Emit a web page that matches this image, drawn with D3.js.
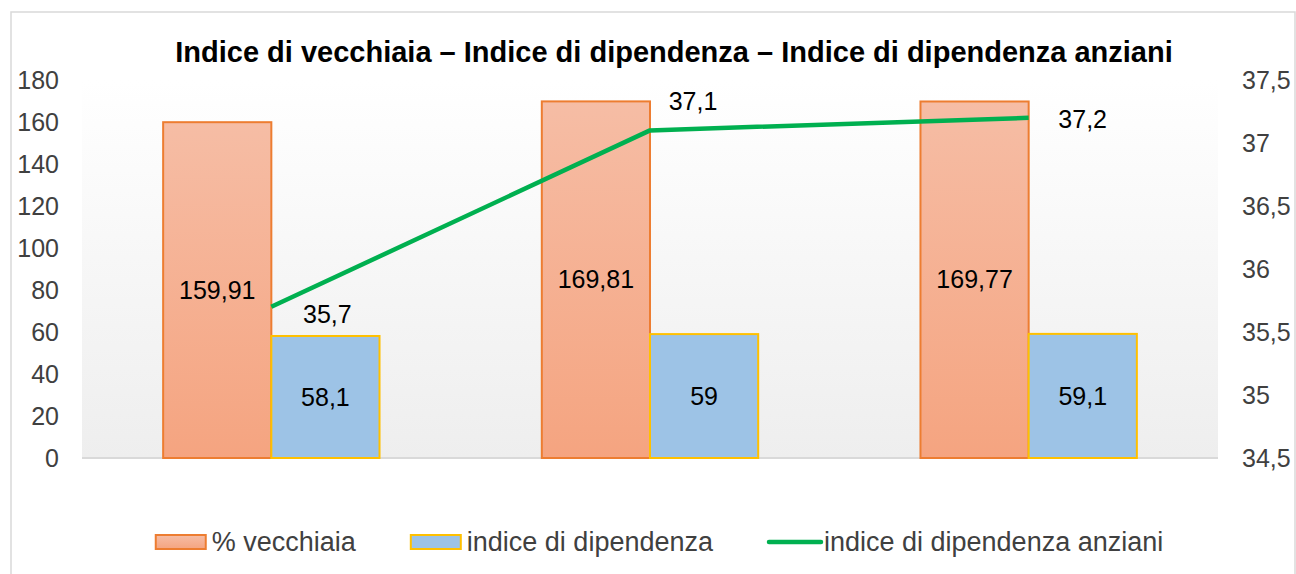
<!DOCTYPE html>
<html>
<head>
<meta charset="utf-8">
<script src="https://cdn.jsdelivr.net/npm/d3@7"></script>
<style>
  body { margin: 0; background: #fff; }
  svg { display: block; font-family: "Liberation Sans", Arial, sans-serif; }
</style>
</head>
<body>
<div id="chart"></div>
<script>
// data
const categories = ["1", "2", "3"];
const vecchiaia = [159.91, 169.81, 169.77];
const dipendenza = [58.1, 59, 59.1];
const dipAnziani = [35.7, 37.1, 37.2];
const leftTicks = [0, 20, 40, 60, 80, 100, 120, 140, 160, 180];
const rightTicks = [34.5, 35, 35.5, 36, 36.5, 37, 37.5];
const seriesNames = ["% vecchiaia", "indice di dipendenza", "indice di dipendenza anziani"];

const W = 1296, H = 574;
const plot = {left: 82, right: 1218, top: 80, bottom: 458};
const fmt = v => String(v).replace(".", ",");
// nudges for the line labels (moved by hand in the original)
const lineLabelNudge = [[56, 7], [43, -29], [54, 1]];

const svg = d3.select("#chart").append("svg")
    .attr("width", W)
    .attr("height", H);

const defs = svg.append("defs");
const bgGrad = defs.append("linearGradient").attr("id", "bg").attr("x1", 0).attr("y1", 0).attr("x2", 0).attr("y2", 1);
bgGrad.append("stop").attr("offset", "0%").attr("stop-color", "#ffffff");
bgGrad.append("stop").attr("offset", "100%").attr("stop-color", "#eeeeee");
const orGrad = defs.append("linearGradient").attr("id", "orange").attr("x1", 0).attr("y1", 0).attr("x2", 0).attr("y2", 1);
orGrad.append("stop").attr("offset", "0%").attr("stop-color", "#f6bda5");
orGrad.append("stop").attr("offset", "100%").attr("stop-color", "#f5a480");

// outer chart border
svg.append("rect")
    .attr("x", 11).attr("y", 12)
    .attr("width", 1284).attr("height", 600)
    .attr("fill", "none")
    .attr("stroke", "#d9d9d9")
    .attr("stroke-width", 1.5);

// plot area background
svg.append("rect")
    .attr("x", plot.left).attr("y", plot.top)
    .attr("width", plot.right - plot.left)
    .attr("height", plot.bottom - plot.top)
    .attr("fill", "url(#bg)");

var x = d3.scaleBand()
        .domain(categories)
        .range([plot.left, plot.right]);

var x1 = d3.scaleBand()
        .domain(["v", "d"])
        .range([0, x.bandwidth()])
        .paddingOuter(0.75);

var yL = d3.scaleLinear().domain([0, 180]).range([plot.bottom, plot.top]);
var yR = d3.scaleLinear().domain([34.5, 37.5]).range([plot.bottom, plot.top]);

// baseline
svg.append("line")
    .attr("x1", plot.left).attr("x2", plot.right)
    .attr("y1", yL(0)).attr("y2", yL(0))
    .attr("stroke", "#d9d9d9")
    .attr("stroke-width", 2);

// left axis labels
svg.append("g").selectAll("text")
    .data(leftTicks).enter().append("text")
    .attr("x", 59)
    .attr("y", d => yL(d))
    .attr("dy", "0.35em")
    .attr("text-anchor", "end")
    .attr("font-size", 25)
    .attr("fill", "#404040")
    .text(d => d);

// right axis labels
svg.append("g").selectAll("text")
    .data(rightTicks).enter().append("text")
    .attr("x", 1242)
    .attr("y", d => yR(d))
    .attr("dy", "0.35em")
    .attr("font-size", 25)
    .attr("fill", "#404040")
    .text(d => fmt(d));

// bars
var bars = svg.append("g");
bars.selectAll(".bv")
    .data(vecchiaia).enter().append("rect")
    .attr("x", (d, i) => x(categories[i]) + x1("v"))
    .attr("y", d => yL(d))
    .attr("width", x1.bandwidth())
    .attr("height", d => yL(0) - yL(d))
    .attr("fill", "url(#orange)")
    .attr("stroke", "#ed7d31")
    .attr("stroke-width", 2);

bars.selectAll(".bd")
    .data(dipendenza).enter().append("rect")
    .attr("x", (d, i) => x(categories[i]) + x1("d"))
    .attr("y", d => yL(d))
    .attr("width", x1.bandwidth())
    .attr("height", d => yL(0) - yL(d))
    .attr("fill", "#9dc3e6")
    .attr("stroke", "#ffc000")
    .attr("stroke-width", 2);

// bar labels
svg.append("g").selectAll("text")
    .data(vecchiaia).enter().append("text")
    .attr("x", (d, i) => x(categories[i]) + x1("v") + x1.bandwidth() / 2)
    .attr("y", d => (yL(d) + yL(0)) / 2)
    .attr("dy", "0.35em")
    .attr("text-anchor", "middle")
    .attr("font-size", 25)
    .text(d => fmt(d));

svg.append("g").selectAll("text")
    .data(dipendenza).enter().append("text")
    .attr("x", (d, i) => x(categories[i]) + x1("d") + x1.bandwidth() / 2)
    .attr("y", d => (yL(d) + yL(0)) / 2)
    .attr("dy", "0.35em")
    .attr("text-anchor", "middle")
    .attr("font-size", 25)
    .text(d => fmt(d));

// line
var lineX = (d, i) => x(categories[i]) + x.bandwidth() / 2;
var line = d3.line()
    .x(lineX)
    .y(d => yR(d));

svg.append("path")
    .datum(dipAnziani)
    .attr("d", line)
    .attr("fill", "none")
    .attr("stroke", "#00b050")
    .attr("stroke-width", 4.5)
    .attr("stroke-linejoin", "round");

svg.append("g").selectAll("text")
    .data(dipAnziani).enter().append("text")
    .attr("x", (d, i) => lineX(d, i) + lineLabelNudge[i][0])
    .attr("y", (d, i) => yR(d) + lineLabelNudge[i][1])
    .attr("dy", "0.35em")
    .attr("text-anchor", "middle")
    .attr("font-size", 25)
    .text(d => fmt(d));

// title
svg.append("text")
    .attr("x", 674)
    .attr("y", 62)
    .attr("text-anchor", "middle")
    .attr("font-size", 29)
    .attr("font-weight", "bold")
    .text("Indice di vecchiaia \u2013 Indice di dipendenza \u2013 Indice di dipendenza anziani");

// legend
var legend = svg.append("g");
var ly = 542;
var items = legend.selectAll("g")
    .data(seriesNames).enter().append("g");

items.each(function(d, i) {
    var g = d3.select(this);
    if (i === 0) {
        g.append("rect").attr("x", 0).attr("y", ly - 7).attr("width", 50).attr("height", 14)
            .attr("fill", "url(#orange)").attr("stroke", "#ed7d31").attr("stroke-width", 2);
    } else if (i === 1) {
        g.append("rect").attr("x", 0).attr("y", ly - 7).attr("width", 50).attr("height", 14)
            .attr("fill", "#9dc3e6").attr("stroke", "#ffc000").attr("stroke-width", 2);
    } else {
        g.append("line").attr("x1", 1).attr("x2", 53).attr("y1", ly).attr("y2", ly)
            .attr("stroke", "#00b050").attr("stroke-width", 4.5).attr("stroke-linecap", "round");
    }
    g.append("text")
        .attr("x", 56)
        .attr("y", ly)
        .attr("dy", "0.35em")
        .attr("font-size", 27)
        .attr("fill", "#404040")
        .text(d);
});

// place legend items side by side, centred
var widths = [];
items.each(function() { widths.push(this.getBBox().width); });
var gap = 54;
var total = d3.sum(widths) + gap * (widths.length - 1);
var cur = 659 - total / 2;
items.attr("transform", (d, i) => {
    var t = "translate(" + cur + ",0)";
    cur += widths[i] + gap;
    return t;
});
</script>
</body>
</html>
